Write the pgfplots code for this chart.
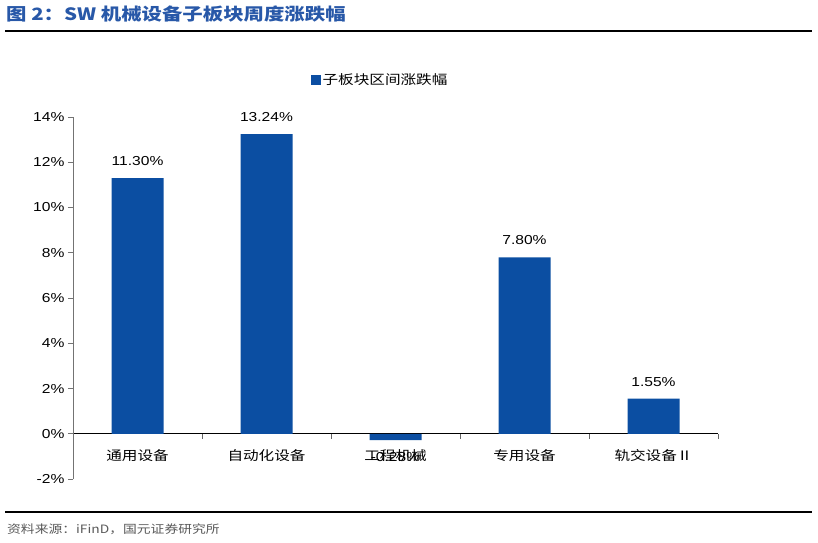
\documentclass[border=0pt]{standalone}
\usepackage{pgfplots}
\pgfplotsset{compat=1.18}
\usepackage{fontspec}
\setmainfont{Liberation Sans}[FakeStretch=1.2]
\newfontfamily\cjk{Noto Sans CJK SC}[FakeStretch=1.2]
\definecolor{barblue}{RGB}{11,78,162}
\definecolor{titleblue}{RGB}{40,88,168}
\begin{document}
\begin{tikzpicture}
\useasboundingbox (0pt,0pt) rectangle (818pt,-542pt);
\node[anchor=west,inner sep=0pt,text=titleblue,font=\cjk\bfseries\fontsize{17}{20}\selectfont] at (6pt,-14pt) {图 2：SW 机械设备子板块周度涨跌幅};
\draw[line width=2pt] (5pt,-31pt) -- (812pt,-31pt);
\draw[line width=2pt] (5pt,-512pt) -- (812pt,-512pt);
\node[anchor=west,inner sep=0pt,text=black!65,font=\cjk\fontsize{11.5}{13}\selectfont] at (7pt,-529pt) {资料来源：iFinD，国元证券研究所};
\begin{axis}[
  at={(73pt,-479pt)}, anchor=south west,
  width=645pt, height=362pt, scale only axis,
  ybar, bar width=52pt,
  xmin=-0.5, xmax=4.5, ymin=-2, ymax=14,
  enlarge x limits=false, enlarge y limits=false,
  axis x line*=middle, axis y line*=left,
  hide obscured x ticks=false, hide obscured y ticks=false,
  x axis line style={black, line width=0.9pt},
  y axis line style={black!55, line width=0.9pt},
  xtick={0,1,2,3,4},
  xticklabels={通用设备,自动化设备,工程机械,专用设备,轨交设备Ⅱ},
  major x tick style={draw=none},
  minor xtick={-0.5,0.5,1.5,2.5,3.5,4.5},
  minor x tick style={black!60, line width=0.9pt},
  minor tick length=5pt,
  x tick label style={font=\cjk\fontsize{13}{15}\selectfont, yshift=-7pt},
  ytick={-2,0,2,4,6,8,10,12,14},
  ytick style={black!55, line width=0.9pt},
  major tick length=5pt,
  tick align=outside,
  yticklabel={\pgfmathprintnumber{\tick}\%},
  /pgf/number format/assume math mode=true,
  y tick label style={font=\fontsize{13}{15}\selectfont},
  nodes near coords={\pgfmathprintnumber[fixed,zerofill,precision=2,assume math mode=true]{\pgfplotspointmeta}\%},
  nodes near coords style={font=\fontsize{13}{15}\selectfont, text=black, inner ysep=12pt},
  legend style={at={(0.476,1.102)}, anchor=center, draw=none, fill=none, font=\cjk\fontsize{13}{15}\selectfont},
  legend image code/.code={\fill[barblue] (0pt,-5pt) rectangle (10pt,5pt);},
  clip=false,
]
\addplot[fill=barblue, draw=none] coordinates {(0,11.30) (1,13.24) (2,-0.28) (3,7.80) (4,1.55)};
\addlegendentry{子板块区间涨跌幅}
\end{axis}
\end{tikzpicture}
\end{document}
